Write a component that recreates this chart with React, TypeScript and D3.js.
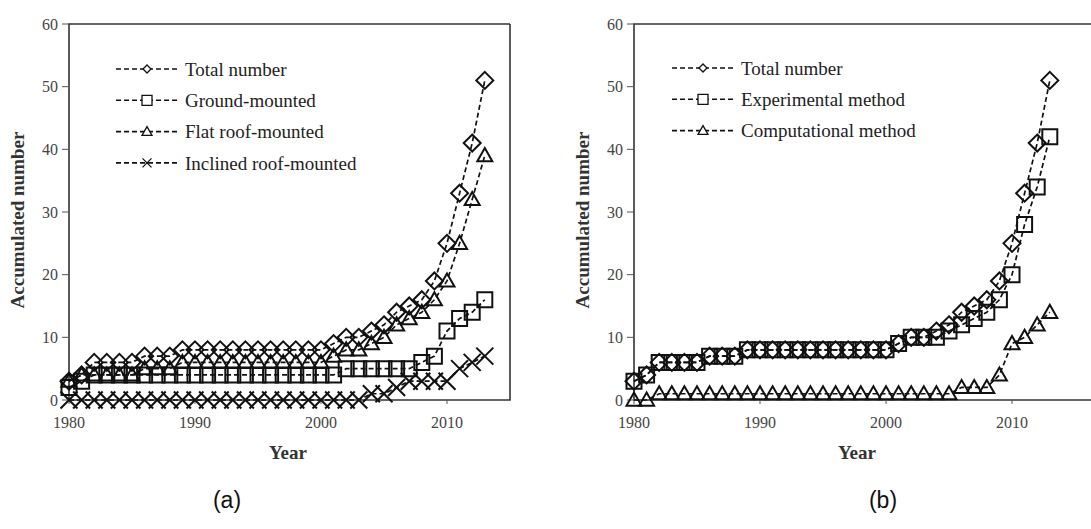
import React from 'react';
import * as d3 from 'd3';

const years = d3.range(1980, 2014);

// panel (a)
const totalA = [3, 4, 6, 6, 6, 6, 7, 7, 7, 8, 8, 8, 8, 8, 8, 8, 8, 8, 8, 8, 8, 9, 10, 10, 11, 12, 14, 15, 16, 19, 25, 33, 41, 51];
const groundA = [2, 3, 4, 4, 4, 4, 4, 4, 4, 4, 4, 4, 4, 4, 4, 4, 4, 4, 4, 4, 4, 4, 5, 5, 5, 5, 5, 5, 6, 7, 11, 13, 14, 16];
const flatA = [3, 4, 4, 4, 4, 4, 5, 5, 5, 6, 6, 6, 6, 6, 6, 6, 6, 6, 6, 6, 6, 7, 8, 8, 9, 10, 12, 13, 14, 16, 19, 25, 32, 39];
const inclinedA = [0, 0, 0, 0, 0, 0, 0, 0, 0, 0, 0, 0, 0, 0, 0, 0, 0, 0, 0, 0, 0, 0, 0, 0, 1, 1, 2, 3, 3, 3, 3, 5, 6, 7];

// panel (b)
const totalB = totalA;
const experimentalB = [3, 4, 6, 6, 6, 6, 7, 7, 7, 8, 8, 8, 8, 8, 8, 8, 8, 8, 8, 8, 8, 9, 10, 10, 10, 11, 12, 13, 14, 16, 20, 28, 34, 42];
const computationalB = [0, 0, 1, 1, 1, 1, 1, 1, 1, 1, 1, 1, 1, 1, 1, 1, 1, 1, 1, 1, 1, 1, 1, 1, 1, 1, 2, 2, 2, 4, 9, 10, 12, 14];

const xTicks = [1980, 1990, 2000, 2010];
const yTicks = [0, 10, 20, 30, 40, 50, 60];

type Shape = 'diamond' | 'square' | 'triangle' | 'cross';

const serif = '"Liberation Serif", "Times New Roman", serif';

function markerPath(shape: Shape, r: number) {
  switch (shape) {
    case 'diamond':
      return `M0,${-r}L${r},0L0,${r}L${-r},0Z`;
    case 'square':
      return `M${-r},${-r}H${r}V${r}H${-r}Z`;
    case 'triangle':
      return `M0,${-r}L${r},${r * 0.75}H${-r}Z`;
    default:
      return `M${-r},${-r}L${r},${r}M${r},${-r}L${-r},${r}`;
  }
}

const bigR: Record<Shape, number> = { diamond: 8.5, square: 7.5, triangle: 7.5, cross: 8.5 };
const smallR: Record<Shape, number> = { diamond: 4, square: 5, triangle: 5, cross: 4.5 };

interface Series {
  name: string;
  values: number[];
  shape: Shape;
}

interface PanelProps {
  series: Series[];
  left: number;
  xMax: number;
  label: string;
  labelX: number;
  titleX: number;
  legendX: number;
  legendY: number;
  openRight: boolean;
}

const top = 24;
const bottom = 400;
const perYear = 12.6;

function Panel({ series, left, xMax, label, labelX, titleX, legendX, legendY, openRight }: PanelProps) {
  const right = left + (xMax - 1980) * perYear;
  const x = d3.scaleLinear().domain([1980, xMax]).range([left, right]);
  const y = d3.scaleLinear().domain([0, 60]).range([bottom, top]);
  const line = d3
    .line<number>()
    .x((_, i) => x(years[i]))
    .y((d) => y(d));

  return (
    <g>
      {/* frame */}
      <path
        d={`M${right},${top}H${left}V${bottom}H${right}${openRight ? '' : 'V' + top}`}
        fill="none"
        stroke="#333"
        strokeWidth={1.6}
      />

      {yTicks.map((t) => (
        <g key={'y' + t}>
          <line x1={left - 7} x2={left} y1={y(t)} y2={y(t)} stroke="#555" strokeWidth={1} />
          <text x={left - 11} y={y(t)} dy="0.35em" textAnchor="end" fontFamily={serif} fontSize={16} fill="#444">
            {t}
          </text>
        </g>
      ))}
      {xTicks.map((t) => (
        <g key={'x' + t}>
          <line x1={x(t)} x2={x(t)} y1={bottom} y2={bottom + 4} stroke="#555" strokeWidth={1} />
          <text x={x(t)} y={bottom + 28} textAnchor="middle" fontFamily={serif} fontSize={16} fill="#444">
            {t}
          </text>
        </g>
      ))}

      <text
        transform={`translate(${left - 45},${(top + bottom) / 2 + 8}) rotate(-90)`}
        textAnchor="middle"
        fontFamily={serif}
        fontWeight="bold"
        fontSize={19}
        fill="#333"
      >
        Accumulated number
      </text>
      <text x={titleX} y={459} textAnchor="middle" fontFamily={serif} fontWeight="bold" fontSize={19} fill="#333">
        Year
      </text>
      <text x={labelX} y={508} textAnchor="middle" fontFamily="Arial, 'Liberation Sans', sans-serif" fontSize={23} fill="#111">
        {label}
      </text>

      {series.map((s) => (
        <g key={s.name}>
          <path d={line(s.values) ?? ''} fill="none" stroke="#111" strokeWidth={1.7} strokeDasharray="5,3" />
          {s.values.map((v, i) => (
            <path
              key={i}
              transform={`translate(${x(years[i])},${y(v)})`}
              d={markerPath(s.shape, bigR[s.shape])}
              fill="none"
              stroke="#111"
              strokeWidth={2}
            />
          ))}
        </g>
      ))}

      {series.map((s, i) => {
        const ly = legendY + i * 31.3;
        return (
          <g key={'lg' + s.name}>
            <line x1={legendX} x2={legendX + 64} y1={ly} y2={ly} stroke="#111" strokeWidth={1.6} strokeDasharray="5,3" />
            <path
              transform={`translate(${legendX + 31},${ly})`}
              d={markerPath(s.shape, smallR[s.shape])}
              fill="white"
              stroke="#111"
              strokeWidth={1.3}
            />
            <text x={legendX + 69} y={ly} dy="0.35em" fontFamily={serif} fontSize={19} fill="#222">
              {s.name}
            </text>
          </g>
        );
      })}
    </g>
  );
}

export default function App() {
  const seriesA: Series[] = [
    { name: 'Total number', values: totalA, shape: 'diamond' },
    { name: 'Ground-mounted', values: groundA, shape: 'square' },
    { name: 'Flat roof-mounted', values: flatA, shape: 'triangle' },
    { name: 'Inclined roof-mounted', values: inclinedA, shape: 'cross' },
  ];
  const seriesB: Series[] = [
    { name: 'Total number', values: totalB, shape: 'diamond' },
    { name: 'Experimental method', values: experimentalB, shape: 'square' },
    { name: 'Computational method', values: computationalB, shape: 'triangle' },
  ];

  return (
    <svg width={1091} height={529} style={{ position: 'absolute', left: 0, top: 0, background: 'white' }}>
      <rect width={1091} height={529} fill="white" />
      <Panel series={seriesA} left={69} xMax={2015} label="(a)" labelX={227} titleX={288} legendX={116} legendY={69} openRight={false} />
      <Panel series={seriesB} left={634} xMax={2017} label="(b)" labelX={883} titleX={857} legendX={672} legendY={68} openRight={true} />
    </svg>
  );
}
